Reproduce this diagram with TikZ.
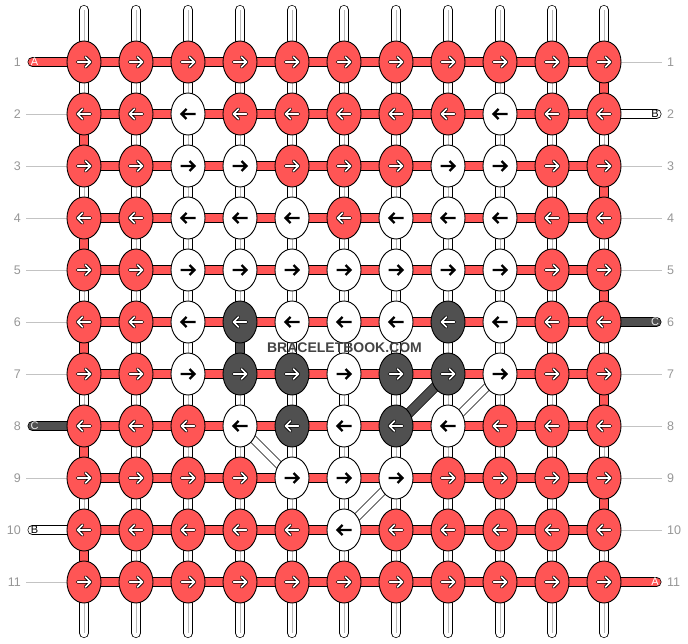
\documentclass[tikz,border=0pt]{standalone}
\usepackage{fontspec}
\setmainfont{Liberation Sans}
\usetikzlibrary{shapes.geometric}
\pgfdeclarelayer{bg}
\pgfsetlayers{bg,main}
\definecolor{bbred}{RGB}{255,85,85}
\definecolor{bbdark}{RGB}{80,80,80}
\definecolor{wmgray}{RGB}{68,68,68}
\definecolor{lblgray}{RGB}{150,150,150}
\definecolor{linegray}{RGB}{195,195,195}
\definecolor{strgray}{RGB}{185,185,185}
\tikzset{
 knot/.style={ellipse, draw=black, line width=0.9pt, minimum width=34pt, minimum height=42pt, inner sep=0pt},
 knotR/.style={knot, fill=bbred},
 knotW/.style={knot, fill=white},
 knotD/.style={knot, fill=bbdark},
 band/.style={draw=black, line width=0.7pt, double distance=8.6pt},
 vwhite/.style={band, double=white},
 vred/.style={band, double=bbred},
 vdark/.style={band, double=bbdark},
 hred/.style={band, double=bbred},
 tabred/.style={band, double=bbred, line cap=round},
 tabwhite/.style={band, double=white, line cap=round},
 tabdark/.style={band, double=bbdark, line cap=round},
 centerline/.style={draw=strgray, line width=0.8pt},
 hatch/.style={draw=black, line width=0.6pt, double=white, double distance=7pt},
 darkdiag/.style={band, double=bbdark},
 lblline/.style={draw=linegray, line width=0.7pt},
 rownum/.style={text=lblgray, font=\fontsize{12.5}{13}\selectfont, inner sep=0pt},
 tabtext/.style={font=\fontsize{11}{11}\selectfont, inner sep=0pt},
 arrR/.pic={
   \draw[black, line width=3.4pt, line cap=round, line join=round] (-6.5,0) -- (6.5,0) (1.5,-5) -- (6.5,0) -- (1.5,5);
   \draw[white, line width=1.6pt, line cap=round, line join=round] (-6.5,0) -- (6.5,0) (1.5,-5) -- (6.5,0) -- (1.5,5);},
 arrD/.pic={
   \draw[black, line width=3.4pt, line cap=round, line join=round] (-6.5,0) -- (6.5,0) (1.5,-5) -- (6.5,0) -- (1.5,5);
   \draw[white, line width=1.6pt, line cap=round, line join=round] (-6.5,0) -- (6.5,0) (1.5,-5) -- (6.5,0) -- (1.5,5);},
 arrW/.pic={
   \draw[black, line width=2.3pt, line join=miter] (-7.5,0) -- (6.5,0) (1.5,-5) -- (6.5,0) -- (1.5,5);},
}
\begin{document}
\begin{tikzpicture}[x=1pt,y=-1pt]
\useasboundingbox (0,0) rectangle (688,644);
% knots
\foreach \r/\lst in {
 1/{R,R,R,R,R,R,R,R,R,R,R},
 2/{R,R,W,R,R,R,R,R,W,R,R},
 3/{R,R,W,W,R,R,R,W,W,R,R},
 4/{R,R,W,W,W,R,W,W,W,R,R},
 5/{R,R,W,W,W,W,W,W,W,R,R},
 6/{R,R,W,D,W,W,W,D,W,R,R},
 7/{R,R,W,D,D,W,D,D,W,R,R},
 8/{R,R,R,W,D,W,D,W,R,R,R},
 9/{R,R,R,R,W,W,W,R,R,R,R},
 10/{R,R,R,R,R,W,R,R,R,R,R},
 11/{R,R,R,R,R,R,R,R,R,R,R}}{
  \pgfmathtruncatemacro\d{2*mod(\r,2)-1}
  \foreach \k [count=\c] in \lst {
    \node[knot\k] (k-\r-\c) at ({84+52*(\c-1)},{62+52*(\r-1)}) {};
    \pic[xscale=\d] at (k-\r-\c) {arr\k};
  }
}
% watermark
\node[font=\bfseries\fontsize{14}{14}\selectfont, text=wmgray, inner sep=0pt] (wm) at (344.5,347.5) {BRACELETBOOK.COM};
% row numbers
\foreach \r in {1,...,11}{
  \node[rownum, anchor=east] (nl-\r) at (21,{62+52*(\r-1)}) {\r};
  \node[rownum, anchor=west] (nr-\r) at (667,{62+52*(\r-1)}) {\r};
}
\begin{pgfonlayer}{bg}
% vertical strings
\foreach \c in {1,...,11}{
  \coordinate (top-\c) at ({84+52*(\c-1)},10);
  \coordinate (bot-\c) at ({84+52*(\c-1)},633);
  \draw[vwhite, line cap=round] (top-\c) -- (k-1-\c.center);
  \draw[centerline] (top-\c) -- (k-1-\c.center);
  \draw[vwhite, line cap=round] (k-11-\c.center) -- (bot-\c);
  \draw[centerline] (k-11-\c.center) -- (bot-\c);
  \foreach \r in {1,...,10}{
    \pgfmathtruncatemacro\rn{\r+1}
    \draw[vwhite] (k-\r-\c.center) -- (k-\rn-\c.center);
    \draw[centerline] (k-\r-\c.center) -- (k-\rn-\c.center);
  }
}
% coloured turns at the edges
\foreach \r in {2,4,6,8,10}{
  \pgfmathtruncatemacro\rn{\r+1}
  \draw[vred] (k-\r-1.center) -- (k-\rn-1.center);
}
\foreach \r in {1,3,5,7,9}{
  \pgfmathtruncatemacro\rn{\r+1}
  \draw[vred] (k-\r-11.center) -- (k-\rn-11.center);
}
\draw[vdark] (k-6-4.center) -- (k-7-4.center);
% horizontal strings
\foreach \r in {1,...,11}{
  \foreach \c in {1,...,10}{
    \pgfmathtruncatemacro\cn{\c+1}
    \draw[hred] (k-\r-\c.center) -- (k-\r-\cn.center);
  }
}
% diagonals
\draw[hatch] (k-8-4.center) -- (k-9-5.center);
\draw[hatch] (k-10-6.center) -- (k-9-7.center);
\draw[hatch] (k-8-8.center) -- (k-7-9.center);
\draw[darkdiag] (k-8-7.center) -- (k-7-8.center);
% label lines
\foreach \r in {2,3,4,5,6,7,9,11}{
  \coordinate (ll-\r) at (26,{62+52*(\r-1)});
  \draw[lblline] (ll-\r) -- (k-\r-1.center);
}
\foreach \r in {1,3,4,5,7,8,9,10}{
  \coordinate (rl-\r) at (662,{62+52*(\r-1)});
  \draw[lblline] (k-\r-11.center) -- (rl-\r);
}
% end tabs
\coordinate (tl-1) at (32.5,62);
\coordinate (tl-8) at (32.5,426);
\coordinate (tl-10) at (32.5,530);
\coordinate (tr-2) at (656.5,114);
\coordinate (tr-6) at (656.5,322);
\coordinate (tr-11) at (656.5,582);
\draw[tabred] (tl-1) -- (k-1-1.center);
\draw[tabdark] (tl-8) -- (k-8-1.center);
\draw[tabwhite] (tl-10) -- (k-10-1.center);
\draw[tabwhite] (k-2-11.center) -- (tr-2);
\draw[tabdark] (k-6-11.center) -- (tr-6);
\draw[tabred] (k-11-11.center) -- (tr-11);
\end{pgfonlayer}
\node[tabtext, text=white] (ta-1) at (34.5,62) {A};
\node[tabtext, text=white!92!black] (ta-8) at (34.5,426) {C};
\node[tabtext, text=black] (ta-10) at (34.5,530) {B};
\node[tabtext, text=black] (ta-2) at (655,114) {B};
\node[tabtext, text=white!92!black] (ta-6) at (655,322) {C};
\node[tabtext, text=white] (ta-11) at (655,582) {A};
\end{tikzpicture}
\end{document}
